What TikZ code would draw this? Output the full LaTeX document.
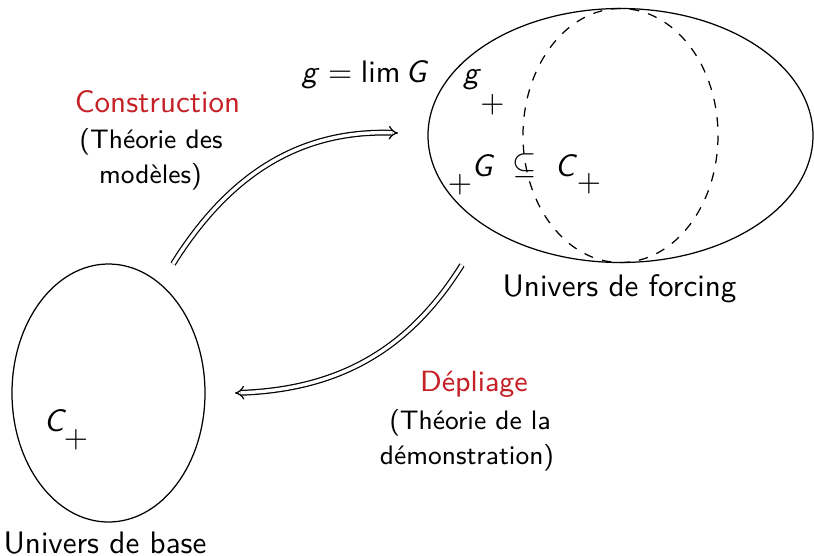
\documentclass[tikz,border=0pt]{standalone}
\usetikzlibrary{arrows.meta}
\definecolor{lblred}{RGB}{196,32,38}
\begin{document}
\begin{tikzpicture}[x=0.0113cm,y=-0.0113cm,
  every node/.style={font=\sffamily, inner sep=0pt},
  univ/.style={line width=0.4pt},
  dsh/.style={dashed, line width=0.4pt},
  dbl/.style={double, double distance=1.1pt, line width=0.4pt, -{Implies}},
  ttl/.style={text=lblred},
  sub/.style={font=\sffamily\fontsize{8.6}{10}\selectfont}]
\useasboundingbox (0,0) rectangle (814,556);
% ellipses
\draw[univ] (620.5,135.5) ellipse [x radius=192.5, y radius=127];
\draw[dsh] (620.5,135.5) ellipse [x radius=97.5, y radius=127];
\draw[univ] (108.5,393) ellipse [x radius=96.5, y radius=129];
% labels
\node (lforc) at (619.5,289) {Univers de forcing};
\node (lbase) at (105,543) {Univers de base};
\node (glim) at (365,75) {\textsl{g}$\;=\;$lim$\,$\textsl{G}};
\node (g) at (472,80) {\textsl{g}};
\node (pg) at (492.5,105) {$+$};
\node (pG) at (460,185) {$+$};
\node (G) at (483,165.5) {\textsl{G}};
\node (sub) at (525,166) {$\subseteq$};
\node (C) at (566,165.5) {\textsl{C}};
\node (pC) at (589,184) {$+$};
\node (C0) at (55,421) {\textsl{C}};
\node (pC0) at (76,440) {$+$};
% arrow labels
\node[ttl] (cons) at (157.5,102) {Construction};
\node[sub] (cons1) at (151,142) {(Théorie des};
\node[sub] (cons2) at (150.5,177) {modèles)};
\node[ttl, font=\sffamily\fontsize{9.4}{11}\selectfont] (depl) at (474,384) {Dépliage};
\node[sub] (depl1) at (470,423) {(Théorie de la};
\node[sub] (depl2) at (467,458) {démonstration)};
% arrows
\coordinate (a1s) at (173,264);
\coordinate (a1e) at (398,133);
\coordinate (a2s) at (462,265);
\coordinate (a2e) at (235,393);
\draw[dbl] (a1s) to[out=58, in=178] (a1e);
\draw[dbl] (a2s) to[out=238, in=2] (a2e);
\end{tikzpicture}
\end{document}
